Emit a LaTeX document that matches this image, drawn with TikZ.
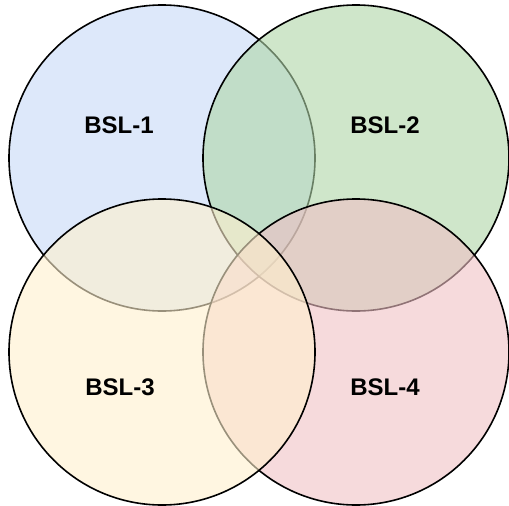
\documentclass[tikz,border=0pt]{standalone}
\usepackage{fontspec}
\setmainfont{Liberation Sans}
\definecolor{cblue}{RGB}{198,217,247}
\definecolor{cgreen}{RGB}{175,213,167}
\definecolor{cyellow}{RGB}{255,240,205}
\definecolor{cred}{RGB}{240,193,197}
\begin{document}
\begin{tikzpicture}[x=1pt,y=-1pt,
  bsl/.style={circle, draw=black, line width=1.6pt, minimum size=306pt, inner sep=0pt, fill opacity=0.6, draw opacity=1},
  lbl/.style={font=\fontsize{24}{28}\selectfont\bfseries, text=black, anchor=base, inner sep=0pt}]
\useasboundingbox (0,0) rectangle (509,506);
\node[bsl, fill=cblue] (c1) at (162,158) {};
\node[bsl, fill=cgreen] (c2) at (356,158) {};
\node[bsl, fill=cred] (c4) at (356,352) {};
\node[bsl, fill=cyellow] (c3) at (162,352) {};
\node[lbl] (t1) at (119,133) {BSL-1};
\node[lbl] (t2) at (385,133) {BSL-2};
\node[lbl] (t3) at (120,395) {BSL-3};
\node[lbl] (t4) at (385,395) {BSL-4};
\end{tikzpicture}
\end{document}
